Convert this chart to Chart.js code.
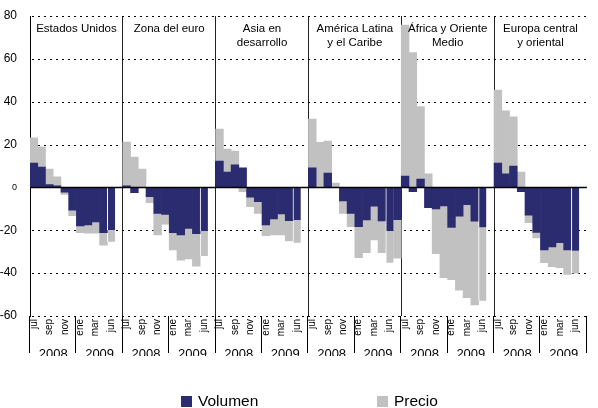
<!DOCTYPE html>
<html>
<head>
<meta charset="utf-8">
<script src="https://cdn.jsdelivr.net/npm/chart.js@4"></script>
<style>
  body { margin: 0; background: #fff; }
  #wrap { position: relative; width: 598px; height: 408px; }
  .leg { position: absolute; display: flex; align-items: center; font: 15.5px "Liberation Sans", Arial, sans-serif; color: #000; }
  .sw { display: inline-block; width: 11px; height: 11px; margin-right: 6px; }
</style>
</head>
<body>
<div id="wrap">
  <canvas id="chart" width="598" height="408"></canvas>
  <div class="leg" style="left:181px;top:392px"><span class="sw" style="background:#2b2b70"></span>Volumen</div>
  <div class="leg" style="left:377px;top:392px"><span class="sw" style="background:#c1c1c1"></span>Precio</div>
</div>
<script>
// panel titles (one entry per region, split on lines)
const regiones = [
  ['Estados Unidos'],
  ['Zona del euro'],
  ['Asia en', 'desarrollo'],
  ['América Latina', 'y el Caribe'],
  ['África y Oriente', 'Medio'],
  ['Europa central', 'y oriental']
];
// month slots of each panel, only every second one is labelled
const meses = ['jul', '', 'sep', '', 'nov', '', 'ene', '', 'mar', '', 'jun', ''];
const anios = ['2008', '2009'];

// volume and price contributions, % change
const volEEUU   = [11.4, 9.5, 1.3, 0.8, -2.2, -10.6, -18.0, -17.5, -16.1, -21.1, -19.9, null];
const preEEUU   = [11.8, 9.4, 7.3, 4.1, -1.1, -2.6, -3.1, -3.9, -5.3, -5.8, -5.4, null];
const volEuro   = [0.8, -2.4, 0, -4.3, -12.1, -12.6, -21.1, -22.2, -19.1, -21.6, -20.4, null];
const preEuro   = [20.4, 14.2, 8.6, -2.8, -10.1, -4.6, -8.1, -11.7, -14.3, -15.1, -11.6, null];
const volAsia   = [12.3, 7.2, 10.5, 9.1, -4.6, -6.7, -17.5, -14.7, -12.4, -15.5, -15.2, null];
const preAsia   = [14.9, 10.7, 6.5, -2.0, -4.4, -5.4, -5.0, -7.5, -9.8, -9.5, -10.6, null];
const volAmLat  = [9.1, 0, 6.7, 0, -6.3, -12.1, -18.3, -15.2, -8.7, -15.6, -20.4, -15.0];
const preAmLat  = [22.8, 21.0, 14.9, 2.0, -5.8, -6.2, -14.5, -15.3, -15.8, -14.9, -14.7, -18.0];
const volAfrica = [5.3, -2.0, 3.9, -9.5, -10.0, -8.6, -18.7, -13.4, -8.0, -15.7, -18.7, null];
const preAfrica = [70.5, 62.9, 33.8, 6.4, -20.9, -33.5, -24.3, -34.6, -43.4, -39.1, -34.2, null];
const volEuropa = [11.4, 6.3, 10.0, -2.0, -12.9, -21.0, -29.2, -27.8, -25.8, -29.2, -29.6, null];
const preEuropa = [34.0, 29.4, 22.9, 7.2, -3.6, -2.6, -5.9, -9.2, -11.7, -11.4, -10.6, null];

const yTicks = [-60, -40, -20, 0, 20, 40, 60, 80];

const volumen = [].concat(volEEUU, volEuro, volAsia, volAmLat, volAfrica, volEuropa);
const precio = [].concat(preEEUU, preEuro, preAsia, preAmLat, preAfrica, preEuropa);
const labels = regiones.flatMap(() => meses);
const yearLabels = regiones.flatMap(() => anios);
const n = meses.length;

Chart.defaults.font.family = '"Liberation Sans", Arial, sans-serif';
Chart.defaults.color = '#000';

// dotted grid, zero line, separators under the axis and panel titles
const decor = {
  id: 'decor',
  beforeDatasetsDraw(chart) {
    const {ctx, chartArea, scales: {y}} = chart;
    ctx.save();
    ctx.strokeStyle = '#000';
    ctx.lineWidth = 1;
    ctx.setLineDash([2, 4]);
    ctx.beginPath();
    yTicks.filter(v => v !== 0).forEach(v => {
      const py = Math.round(y.getPixelForValue(v)) + 0.5;
      ctx.moveTo(chartArea.left + 2, py);
      ctx.lineTo(chartArea.right, py);
    });
    ctx.stroke();
    ctx.restore();
  },
  afterDatasetsDraw(chart) {
    const {ctx, chartArea, scales: {y, x2}} = chart;
    ctx.save();
    ctx.strokeStyle = '#000';
    ctx.lineWidth = 1.5;
    const y0 = y.getPixelForValue(0);
    ctx.beginPath();
    ctx.moveTo(chartArea.left, y0);
    ctx.lineTo(chartArea.right, y0);
    ctx.stroke();

    ctx.lineWidth = 1;
    ctx.beginPath();
    const step = x2.width / yearLabels.length;
    for (let k = 0; k <= yearLabels.length; k++) {
      const px = Math.round(x2.left + k * step) - 0.5;
      ctx.moveTo(px, chartArea.bottom);
      ctx.lineTo(px, x2.bottom - 3);
    }
    ctx.stroke();

    ctx.fillStyle = '#000';
    ctx.font = '11.5px "Liberation Sans", Arial, sans-serif';
    ctx.textAlign = 'center';
    const w = chartArea.width / regiones.length;
    regiones.forEach((lines, p) => {
      const cx = chartArea.left + (p + 0.5) * w;
      lines.forEach((t, j) => ctx.fillText(t, cx, chartArea.top + 16 + j * 13.5));
    });
    ctx.restore();
  }
};

new Chart(document.getElementById('chart'), {
  type: 'bar',
  data: {
    labels: labels,
    datasets: [
      { label: 'Volumen', data: volumen, backgroundColor: '#2b2b70' },
      { label: 'Precio', data: precio, backgroundColor: '#c1c1c1' }
    ]
  },
  options: {
    responsive: false,
    animation: false,
    layout: { padding: { top: 16, right: 0, bottom: 52, left: 0 } },
    datasets: {
      bar: {
        barPercentage: 1,
        categoryPercentage: 1,
        borderColor: '#fff',
        borderWidth: c => (c.dataIndex % n === 10 ? { left: 1, right: 0, top: 0, bottom: 0 } : 0)
      }
    },
    plugins: { legend: { display: false }, tooltip: { enabled: false } },
    scales: {
      x: {
        stacked: true,
        afterFit: s => { s.height = 22; },
        grid: {
          color: c => (c.index % n === 0 && c.index < labels.length ? '#222' : 'rgba(0,0,0,0)'),
          drawTicks: false
        },
        border: { display: false },
        ticks: { autoSkip: false, minRotation: 90, maxRotation: 90, padding: 3, font: { size: 10 } }
      },
      x2: {
        type: 'category',
        labels: yearLabels,
        offset: true,
        position: 'bottom',
        weight: 1,
        afterFit: s => { s.height = 18; },
        grid: { display: false },
        border: { display: false },
        ticks: { autoSkip: false, maxRotation: 0, padding: 1, font: { size: 13 } }
      },
      y: {
        stacked: true,
        min: yTicks[0],
        max: yTicks[yTicks.length - 1],
        afterFit: s => { s.width = 30; },
        ticks: {
          stepSize: 20,
          padding: 5,
          font: c => ({ size: c.tick && c.tick.value === 0 ? 9 : 12 })
        },
        grid: { display: false },
        border: { color: '#000', width: 1 }
      }
    }
  },
  plugins: [decor]
});
</script>
</body>
</html>
